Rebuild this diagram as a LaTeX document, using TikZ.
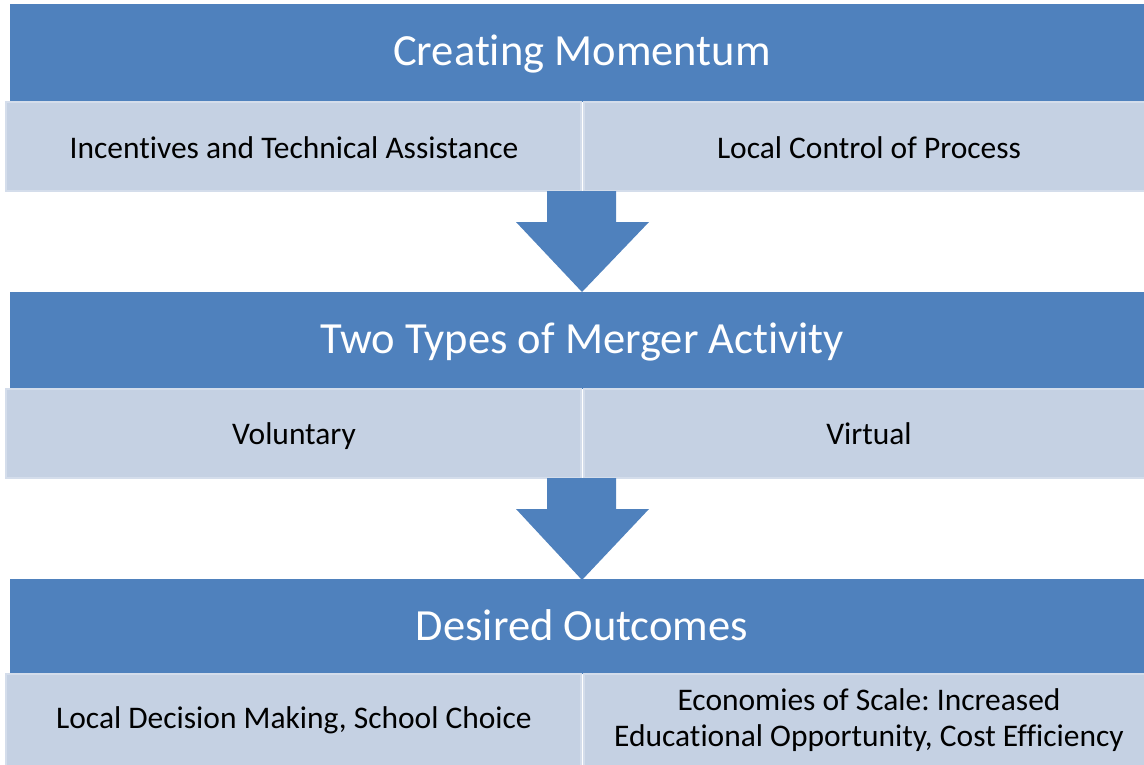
\documentclass[tikz,border=0pt]{standalone}
\usepackage{fontspec}
\setmainfont{Carlito}[Ligatures=NoCommon]
\frenchspacing
\definecolor{hdr}{RGB}{79,129,189}
\definecolor{sub}{RGB}{197,209,227}
\definecolor{subedge}{RGB}{212,221,235}
\begin{document}
\frenchspacing
\begin{tikzpicture}[x=0.75pt,y=-0.75pt,
  header/.style={fill=hdr,draw=none},
  subbox/.style={fill=sub,draw=subedge,line width=1.2pt},
  htext/.style={text=white,font=\fontsize{33.4}{38}\selectfont,anchor=center,text height=23pt,text depth=7pt},
  stext/.style={text=black,font=\fontsize{23.6}{27}\selectfont,anchor=center,align=center,text height=16.5pt,text depth=5pt},
  mtext/.style={text=black,font=\fontsize{23.6}{27}\selectfont,anchor=center,align=center},
  arrowshape/.style={fill=hdr,draw=none}]
\useasboundingbox (0,0) rectangle (1144,764);
\clip (0,0) rectangle (1144,764);
% section 1
\path[header] (10,4) rectangle (1160,102);
\node[htext] (h1) at (582,55) {Creating Momentum};
\path[subbox] (6,102) rectangle (581,191);
\path[subbox] (584,102) rectangle (1160,191);
\node[stext] (s1a) at (294,151) {Incentives and Technical Assistance};
\node[stext] (s1b) at (869,151) {Local Control of Process};
% arrow 1
\path[arrowshape] (547,191) -- (616,191) -- (616,222) -- (649,222) -- (582,292) -- (516,222) -- (547,222) -- cycle;
% section 2
\path[header] (10,292) rectangle (1160,389);
\node[htext] (h2) at (582,343) {Two Types of Merger Activity};
\path[subbox] (6,389) rectangle (581,478);
\path[subbox] (584,389) rectangle (1160,478);
\node[stext] (s2a) at (294,437) {Voluntary};
\node[stext] (s2b) at (869,437) {Virtual};
% arrow 2
\path[arrowshape] (547,478) -- (616,478) -- (616,509) -- (649,509) -- (582,580) -- (516,509) -- (547,509) -- cycle;
% section 3
\path[header] (10,579) rectangle (1160,674);
\node[htext] (h3) at (582,630) {Desired Outcomes};
\path[subbox] (6,674) rectangle (581,770);
\path[subbox] (584,674) rectangle (1160,770);
\node[stext] (s3a) at (294,721) {Local Decision Making, School Choice};
\node[mtext] (s3b) at (869,720) {Economies of Scale: Increased\\Educational Opportunity, Cost Efficiency};
\end{tikzpicture}
\end{document}
